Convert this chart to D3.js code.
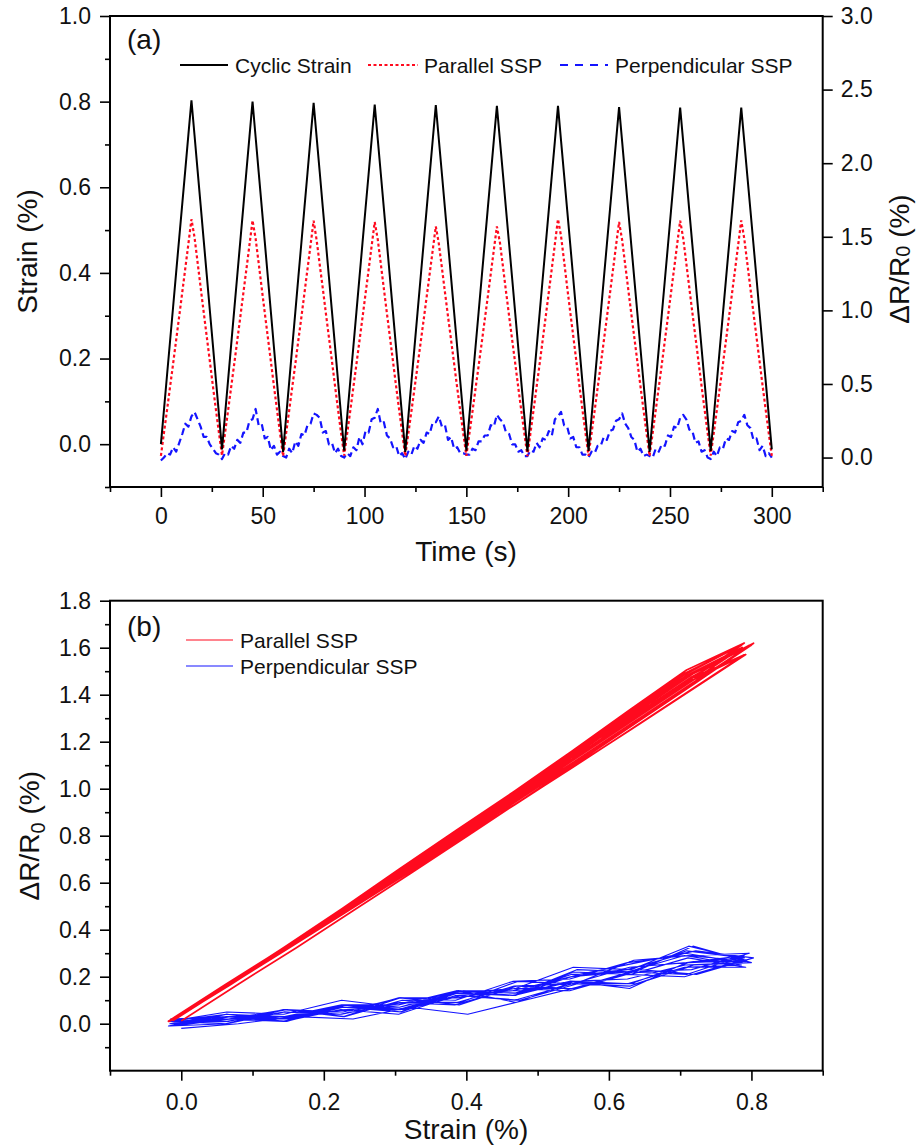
<!DOCTYPE html>
<html>
<head>
<meta charset="utf-8">
<script src="https://cdn.jsdelivr.net/npm/d3@7"></script>
<style>
  body { margin: 0; background: #fff; }
  svg { display: block; }
</style>
</head>
<body>
<svg id="chart" width="919" height="1147"></svg>
<script>
// ---- Data: cyclic strain test, sampled every 1.5 s over 10 cycles (0–300 s) ----
const sampleStep = 1.5; // s

// Applied strain (%)
const strain = [
  0.000, 0.080, 0.161, 0.241, 0.321, 0.402, 0.482, 0.562, 0.642, 0.723, 0.803, 0.722, 0.640, 0.559, 0.477, 0.396, 0.314, 0.233, 0.151, 0.070,
  -0.012, 0.069, 0.150, 0.232, 0.313, 0.394, 0.475, 0.556, 0.638, 0.719, 0.800, 0.718, 0.636, 0.555, 0.473, 0.391, 0.309, 0.227, 0.146, 0.064,
  -0.018, 0.064, 0.145, 0.227, 0.308, 0.390, 0.471, 0.553, 0.634, 0.716, 0.797, 0.716, 0.635, 0.553, 0.472, 0.391, 0.310, 0.229, 0.147, 0.066,
  -0.015, 0.066, 0.147, 0.227, 0.308, 0.389, 0.470, 0.551, 0.631, 0.712, 0.793, 0.712, 0.631, 0.550, 0.469, 0.388, 0.306, 0.225, 0.144, 0.063,
  -0.018, 0.063, 0.144, 0.225, 0.306, 0.387, 0.468, 0.549, 0.630, 0.711, 0.792, 0.711, 0.631, 0.550, 0.469, 0.389, 0.308, 0.227, 0.147, 0.066,
  -0.015, 0.066, 0.146, 0.227, 0.307, 0.388, 0.468, 0.549, 0.629, 0.710, 0.790, 0.709, 0.629, 0.548, 0.467, 0.387, 0.306, 0.225, 0.144, 0.064,
  -0.017, 0.064, 0.144, 0.225, 0.306, 0.387, 0.467, 0.548, 0.629, 0.709, 0.790, 0.709, 0.629, 0.548, 0.468, 0.387, 0.306, 0.226, 0.145, 0.065,
  -0.016, 0.064, 0.145, 0.225, 0.305, 0.386, 0.466, 0.546, 0.626, 0.707, 0.787, 0.707, 0.626, 0.546, 0.465, 0.385, 0.305, 0.224, 0.144, 0.063,
  -0.018, 0.062, 0.143, 0.223, 0.304, 0.384, 0.464, 0.545, 0.625, 0.706, 0.786, 0.706, 0.626, 0.545, 0.465, 0.385, 0.305, 0.225, 0.145, 0.064,
  -0.016, 0.064, 0.144, 0.225, 0.305, 0.385, 0.465, 0.545, 0.626, 0.706, 0.786, 0.706, 0.626, 0.547, 0.467, 0.387, 0.307, 0.227, 0.148, 0.068,
  -0.012
];

// ΔR/R0 (%) of the sensor aligned parallel to the strain
const parallelSSP = [
  0.012, 0.168, 0.322, 0.481, 0.638, 0.800, 0.961, 1.124, 1.288, 1.453, 1.619, 1.497, 1.328, 1.157, 0.989, 0.823, 0.658, 0.490, 0.327, 0.168,
  0.015, 0.167, 0.321, 0.478, 0.635, 0.796, 0.956, 1.119, 1.281, 1.446, 1.611, 1.489, 1.322, 1.152, 0.984, 0.819, 0.654, 0.487, 0.326, 0.167,
  0.010, 0.166, 0.320, 0.479, 0.634, 0.797, 0.955, 1.118, 1.282, 1.445, 1.610, 1.475, 1.310, 1.150, 0.982, 0.818, 0.655, 0.488, 0.325, 0.165,
  0.013, 0.166, 0.319, 0.476, 0.632, 0.792, 0.951, 1.113, 1.275, 1.439, 1.600, 1.482, 1.315, 1.146, 0.979, 0.815, 0.651, 0.485, 0.324, 0.166,
  0.011, 0.163, 0.313, 0.466, 0.619, 0.776, 0.932, 1.091, 1.250, 1.410, 1.571, 1.452, 1.289, 1.123, 0.959, 0.799, 0.638, 0.475, 0.318, 0.163,
  0.012, 0.162, 0.312, 0.467, 0.620, 0.775, 0.933, 1.090, 1.249, 1.411, 1.570, 1.460, 1.295, 1.126, 0.962, 0.800, 0.640, 0.476, 0.317, 0.162,
  0.010, 0.168, 0.322, 0.481, 0.638, 0.800, 0.961, 1.124, 1.288, 1.453, 1.620, 1.505, 1.335, 1.160, 0.990, 0.825, 0.658, 0.490, 0.327, 0.168,
  0.012, 0.166, 0.319, 0.476, 0.632, 0.792, 0.951, 1.113, 1.275, 1.439, 1.601, 1.478, 1.312, 1.144, 0.978, 0.814, 0.650, 0.485, 0.324, 0.166,
  0.011, 0.167, 0.321, 0.478, 0.635, 0.796, 0.956, 1.119, 1.281, 1.446, 1.610, 1.490, 1.322, 1.152, 0.984, 0.819, 0.654, 0.487, 0.326, 0.167,
  0.013, 0.167, 0.321, 0.478, 0.635, 0.796, 0.956, 1.119, 1.281, 1.446, 1.611, 1.485, 1.318, 1.150, 0.983, 0.818, 0.653, 0.487, 0.325, 0.167,
  0.012
];

// ΔR/R0 (%) of the sensor aligned perpendicular to the strain
const perpendicularSSP = [
  -0.02, 0.00, 0.03, 0.02, 0.07, 0.04, 0.10, 0.16, 0.23, 0.21, 0.28, 0.31, 0.26, 0.21, 0.14, 0.14, 0.09, 0.06, 0.03, 0.02,
  -0.01, 0.03, 0.02, 0.08, 0.06, 0.12, 0.10, 0.17, 0.17, 0.25, 0.26, 0.33, 0.22, 0.23, 0.13, 0.14, 0.05, 0.08, 0.02, 0.04,
  0.01, 0.00, 0.06, 0.03, 0.11, 0.08, 0.16, 0.15, 0.22, 0.23, 0.30, 0.29, 0.27, 0.17, 0.18, 0.09, 0.10, 0.03, 0.06, 0.01,
  0.00, 0.03, 0.01, 0.07, 0.05, 0.14, 0.09, 0.18, 0.17, 0.26, 0.27, 0.33, 0.23, 0.24, 0.15, 0.13, 0.07, 0.08, 0.01, 0.03,
  -0.01, 0.04, 0.02, 0.08, 0.06, 0.12, 0.10, 0.17, 0.16, 0.24, 0.24, 0.28, 0.21, 0.22, 0.12, 0.14, 0.06, 0.07, 0.03, 0.03,
  0.02, 0.02, 0.06, 0.05, 0.11, 0.11, 0.15, 0.15, 0.22, 0.21, 0.29, 0.26, 0.24, 0.17, 0.16, 0.09, 0.09, 0.04, 0.05, 0.01,
  0.01, 0.05, 0.04, 0.10, 0.07, 0.13, 0.12, 0.18, 0.15, 0.26, 0.28, 0.31, 0.22, 0.21, 0.13, 0.14, 0.07, 0.07, 0.02, 0.02,
  0.00, 0.04, 0.03, 0.08, 0.08, 0.14, 0.12, 0.18, 0.19, 0.25, 0.26, 0.30, 0.23, 0.20, 0.14, 0.12, 0.04, 0.06, 0.01, 0.02,
  0.01, 0.00, 0.06, 0.04, 0.09, 0.08, 0.15, 0.14, 0.21, 0.20, 0.27, 0.29, 0.26, 0.19, 0.18, 0.10, 0.11, 0.04, 0.05, 0.00,
  -0.01, 0.04, 0.01, 0.07, 0.06, 0.13, 0.12, 0.18, 0.17, 0.24, 0.25, 0.29, 0.22, 0.20, 0.12, 0.13, 0.05, 0.08, 0.01, 0.03,
  0.00
];

// Axis ticks
const timeTicks = [0, 50, 100, 150, 200, 250, 300];
const timeMinorTicks = [-25, 25, 75, 125, 175, 225, 275, 325];
const strainTicksA = [0.0, 0.2, 0.4, 0.6, 0.8, 1.0];
const strainMinorA = [-0.1, 0.1, 0.3, 0.5, 0.7, 0.9];
const resistTicksA = [0.0, 0.5, 1.0, 1.5, 2.0, 2.5, 3.0];
const strainTicksB = [0.0, 0.2, 0.4, 0.6, 0.8];
const strainMinorB = [-0.1, 0.1, 0.3, 0.5, 0.7, 0.9];
const resistTicksB = [0.0, 0.2, 0.4, 0.6, 0.8, 1.0, 1.2, 1.4, 1.6, 1.8];
const resistMinorB = [-0.1, 0.1, 0.3, 0.5, 0.7, 0.9, 1.1, 1.3, 1.5, 1.7];

// Series labels
const seriesA = ["Cyclic Strain", "Parallel SSP", "Perpendicular SSP"];
const seriesB = ["Parallel SSP", "Perpendicular SSP"];

// ---- Layout and styling ----
const FONT = '"Liberation Sans", Arial, Helvetica, sans-serif';
const colors = { strain: "#000000", parallel: "#ff0a1e", perpendicular: "#1414ff" };
const L = 110, R = 822.7;
const panelA = { top: 16, bottom: 487 };
const panelB = { top: 600.7, bottom: 1070.7 };

const svg = d3.select("#chart").style("font-family", FONT);
svg.append("rect").attr("width", 919).attr("height", 1147).attr("fill", "#fff");

const time = strain.map((_, i) => i * sampleStep);

// Scales
const xA = d3.scaleLinear().domain([-25, 325]).range([L, R]);
const yA = d3.scaleLinear().domain([-0.1, 1.0]).range([panelA.bottom, panelA.top]);
const yA2 = d3.scaleLinear().domain([-0.2, 3.0]).range([panelA.bottom, panelA.top]);
const xB = d3.scaleLinear().domain([-0.1, 0.9]).range([L, R]);
const yB = d3.scaleLinear().domain([-0.2, 1.8]).range([panelB.bottom, panelB.top]);

// Axis helper: major ticks with labels plus unlabeled minor ticks
function axis(orient, scale, transform, major, minor, fmt, pad) {
  const g = svg.append("g").attr("transform", transform);
  const mk = { left: d3.axisLeft, right: d3.axisRight, bottom: d3.axisBottom }[orient];
  if (minor) {
    g.append("g").call(mk(scale).tickValues(minor).tickSize(5).tickSizeOuter(0).tickFormat(""))
      .call(s => s.select(".domain").remove());
  }
  g.append("g").call(mk(scale).tickValues(major).tickSize(10).tickSizeOuter(0).tickPadding(pad).tickFormat(fmt))
    .call(s => s.select(".domain").remove());
  g.selectAll(".tick line").attr("stroke", "#000").attr("stroke-width", 1.6);
  g.selectAll(".tick text").attr("fill", "#111").attr("font-size", 23).attr("font-family", FONT);
  return g;
}

const f1 = d3.format(".1f");

// ---- Panel (a): time series ----
axis("bottom", xA, `translate(0,${panelA.bottom})`, timeTicks, timeMinorTicks, d3.format("d"), 11);
axis("left", yA, `translate(${L},0)`, strainTicksA, strainMinorA, f1, 9);
axis("right", yA2, `translate(${R},0)`, resistTicksA, null, f1, 8);

svg.append("rect")
  .attr("x", L).attr("y", panelA.top)
  .attr("width", R - L).attr("height", panelA.bottom - panelA.top)
  .attr("fill", "none").attr("stroke", "#000").attr("stroke-width", 2);

const lineStrainA = d3.line().x((d, i) => xA(time[i])).y(d => yA(d));
const lineResA = d3.line().x((d, i) => xA(time[i])).y(d => yA2(d));

svg.append("path").attr("d", lineResA(perpendicularSSP))
  .attr("fill", "none").attr("stroke", colors.perpendicular).attr("stroke-width", 2.2)
  .attr("stroke-dasharray", "7,4").attr("stroke-linejoin", "round");
svg.append("path").attr("d", lineResA(parallelSSP))
  .attr("fill", "none").attr("stroke", colors.parallel).attr("stroke-width", 2.2)
  .attr("stroke-dasharray", "3,2.5");
svg.append("path").attr("d", lineStrainA(strain))
  .attr("fill", "none").attr("stroke", colors.strain).attr("stroke-width", 2)
  .attr("stroke-linejoin", "miter");

// Panel label and legend
svg.append("text").attr("x", 127).attr("y", 49).attr("font-size", 28).attr("fill", "#111").text("(a)");

const legA = [
  { x1: 180, x2: 228, tx: 235, color: colors.strain, dash: null, label: seriesA[0] },
  { x1: 368, x2: 418, tx: 424, color: colors.parallel, dash: "3,2.5", label: seriesA[1] },
  { x1: 560, x2: 608, tx: 615, color: colors.perpendicular, dash: "8,7", label: seriesA[2] }
];
legA.forEach(d => {
  svg.append("line").attr("x1", d.x1).attr("x2", d.x2).attr("y1", 65).attr("y2", 65)
    .attr("stroke", d.color).attr("stroke-width", 2).attr("stroke-dasharray", d.dash);
  svg.append("text").attr("x", d.tx).attr("y", 72.5).attr("font-size", 21).attr("fill", "#111").text(d.label);
});

// Axis titles
svg.append("text").attr("transform", "translate(37,251.5) rotate(-90)")
  .attr("text-anchor", "middle").attr("font-size", 28).attr("fill", "#111").text("Strain (%)");
svg.append("text").attr("x", 466).attr("y", 561)
  .attr("text-anchor", "middle").attr("font-size", 28).attr("fill", "#111").text("Time (s)");
{
  const t = svg.append("text").attr("transform", "translate(909,259) rotate(-90)")
    .attr("text-anchor", "middle").attr("font-size", 28).attr("fill", "#111");
  t.append("tspan").text("ΔR/R");
  t.append("tspan").attr("font-size", 20).attr("dy", 1).text("0");
  t.append("tspan").attr("dy", -1).text(" (%)");
}

// ---- Panel (b): ΔR/R0 against strain ----
axis("bottom", xB, `translate(0,${panelB.bottom})`, strainTicksB, strainMinorB, f1, 13);
axis("left", yB, `translate(${L},0)`, resistTicksB, resistMinorB, f1, 9);

svg.append("rect")
  .attr("x", L).attr("y", panelB.top)
  .attr("width", R - L).attr("height", panelB.bottom - panelB.top)
  .attr("fill", "none").attr("stroke", "#000").attr("stroke-width", 2);

const lineB = d3.line().x((d, i) => xB(strain[i])).y(d => yB(d));

svg.append("path").attr("d", lineB(perpendicularSSP))
  .attr("fill", "none").attr("stroke", colors.perpendicular).attr("stroke-width", 1.1)
  .attr("stroke-linejoin", "round");
svg.append("path").attr("d", lineB(parallelSSP))
  .attr("fill", "none").attr("stroke", colors.parallel).attr("stroke-width", 1.7)
  .attr("stroke-linejoin", "round");

svg.append("text").attr("x", 127).attr("y", 636).attr("font-size", 28).attr("fill", "#111").text("(b)");

const legB = [
  { y: 640, color: colors.parallel, label: seriesB[0] },
  { y: 666, color: colors.perpendicular, label: seriesB[1] }
];
legB.forEach(d => {
  svg.append("line").attr("x1", 186).attr("x2", 233).attr("y1", d.y).attr("y2", d.y)
    .attr("stroke", d.color).attr("stroke-width", 1.2);
  svg.append("text").attr("x", 240).attr("y", d.y + 7.5).attr("font-size", 21).attr("fill", "#111").text(d.label);
});

svg.append("text").attr("x", 466).attr("y", 1139)
  .attr("text-anchor", "middle").attr("font-size", 28).attr("fill", "#111").text("Strain (%)");
{
  const t = svg.append("text").attr("transform", "translate(39,835.7) rotate(-90)")
    .attr("text-anchor", "middle").attr("font-size", 28).attr("fill", "#111");
  t.append("tspan").text("ΔR/R");
  t.append("tspan").attr("font-size", 20).attr("dy", 6).text("0");
  t.append("tspan").attr("dy", -6).text(" (%)");
}
</script>
</body>
</html>
